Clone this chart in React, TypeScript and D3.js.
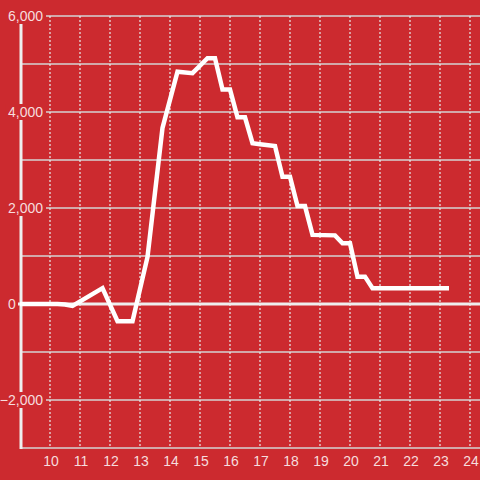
import React, { useEffect, useRef } from "react";
import * as d3 from "d3";

const hours = [9, 10.25, 10.5, 10.75, 11.75, 12.25, 12.75, 13.25, 13.75, 14.25, 14.75, 15.25, 15.5, 15.75, 16.0, 16.25, 16.5, 16.75, 17.0, 17.5, 17.75, 18.0, 18.25, 18.5, 18.75, 19.5, 19.75, 20.0, 20.25, 20.5, 20.75, 23.3];
const values = [0, 0, -10, -40, 330, -360, -360, 980, 3670, 4840, 4810, 5120, 5120, 4470, 4470, 3890, 3890, 3350, 3330, 3290, 2650, 2650, 2040, 2040, 1440, 1430, 1265, 1265, 570, 570, 330, 330];
const xTicks = [10, 11, 12, 13, 14, 15, 16, 17, 18, 19, 20, 21, 22, 23, 24];
const yLabelTicks = [-2000, 0, 2000, 4000, 6000];
const yGridTicks = [-2000, -1000, 1000, 2000, 3000, 4000, 5000, 6000];

const W = 480;
const H = 480;
const BG = "#cc2a2f";
const FONT = "'Liberation Sans', Arial, sans-serif";

export default function App() {
  const ref = useRef<SVGSVGElement | null>(null);

  useEffect(() => {
    document.body.style.margin = "0";
    const svg = d3.select(ref.current);
    svg.selectAll("*").remove();

    const x = d3.scaleLinear().domain([9, 24]).range([20, 470]);
    const y = d3.scaleLinear().domain([-3000, 6000]).range([448, 16]);

    svg.append("rect").attr("width", W).attr("height", H).attr("fill", BG);

    // solid horizontal gridlines
    svg.append("g").selectAll("line").data(yGridTicks).join("line")
      .attr("x1", 21).attr("x2", W)
      .attr("y1", (d) => y(d)).attr("y2", (d) => y(d))
      .attr("stroke", "#d4d4d4").attr("stroke-width", 1.3);

    // dotted vertical gridlines
    svg.append("g").selectAll("line").data(xTicks).join("line")
      .attr("x1", (d) => x(d)).attr("x2", (d) => x(d))
      .attr("y1", y(6000)).attr("y2", y(-3000))
      .attr("stroke", "#e6eeee").attr("stroke-width", 1.2)
      .attr("stroke-dasharray", "2,2");

    // bottom axis line
    svg.append("line")
      .attr("x1", 20).attr("x2", W)
      .attr("y1", y(-3000)).attr("y2", y(-3000))
      .attr("stroke", "#d4d4d4").attr("stroke-width", 1.3);

    // y axis line
    svg.append("line")
      .attr("x1", 21).attr("x2", 21)
      .attr("y1", y(6000)).attr("y2", y(-3000) + 1)
      .attr("stroke", "#eeeeee").attr("stroke-width", 3);

    // zero line
    svg.append("line")
      .attr("x1", 18).attr("x2", W)
      .attr("y1", y(0)).attr("y2", y(0))
      .attr("stroke", "#eeeeee").attr("stroke-width", 3);

    // y labels
    const fmt = d3.format(",");
    const yl = svg.append("g");
    yLabelTicks.forEach((t) => {
      if (t === 0) {
        yl.append("text")
          .attr("x", 12).attr("y", y(0)).attr("dy", "0.35em")
          .attr("text-anchor", "middle")
          .attr("font-family", FONT).attr("font-size", 14)
          .attr("fill", "#fff").attr("fill-opacity", 0.85)
          .text("0");
        return;
      }
      const label = fmt(t);
      const txt = yl.append("text")
        .attr("x", 43).attr("y", y(t)).attr("dy", "0.35em")
        .attr("text-anchor", "end")
        .attr("font-family", FONT).attr("font-size", 14)
        .attr("fill", "#fff").attr("fill-opacity", 0.85)
        .text(label);
      const node = txt.node() as SVGTextElement;
      const bb = node.getBBox();
      yl.insert("rect", () => node)
        .attr("x", bb.x - 2).attr("y", y(t) - 8)
        .attr("width", 46 - (bb.x - 2)).attr("height", 16)
        .attr("fill", BG);
    });

    // x labels
    svg.append("g").selectAll("text").data(xTicks).join("text")
      .attr("x", (d) => x(d) + 1).attr("y", 466)
      .attr("text-anchor", "middle")
      .attr("font-family", FONT).attr("font-size", 14)
      .attr("fill", "#fff").attr("fill-opacity", 0.85)
      .text((d) => String(d));

    // data line
    const pts = hours.map((h, i) => [h, values[i]] as [number, number]);
    const line = d3.line<[number, number]>().x((d) => x(d[0])).y((d) => y(d[1]));
    svg.append("path")
      .attr("d", line(pts))
      .attr("fill", "none")
      .attr("stroke", "#ffffff")
      .attr("stroke-width", 4.5)
      .attr("stroke-linejoin", "miter");
  }, []);

  return <svg ref={ref} width={W} height={H} style={{ display: "block" }} />;
}
